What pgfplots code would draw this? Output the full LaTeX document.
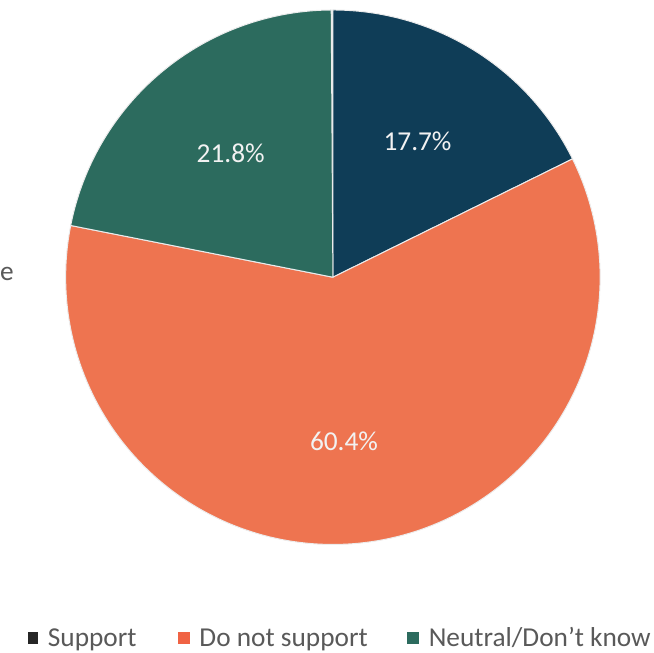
\documentclass[border=0pt]{standalone}
\usepackage{pgfplots}
\pgfplotsset{compat=1.18}
\usepackage{pgfplotstable}
\usepackage{fontspec}
\setmainfont{Carlito}
\definecolor{cSup}{HTML}{0F3D57}
\definecolor{cNot}{HTML}{EE7450}
\definecolor{cNeu}{HTML}{2C6B5E}
\definecolor{cTxt}{HTML}{595959}
\pgfplotstableread{
label share
Support 17.7
NotSupport 60.4
Neutral 21.8
}\piedata
\begin{document}
\begin{tikzpicture}
\pgfplotstablegetelem{0}{share}\of\piedata \let\sA\pgfplotsretval
\pgfplotstablegetelem{1}{share}\of\piedata \let\sB\pgfplotsretval
\pgfplotstablegetelem{2}{share}\of\piedata \let\sC\pgfplotsretval
\pgfmathsetmacro{\aA}{90}
\pgfmathsetmacro{\aB}{90-3.6*\sA}
\pgfmathsetmacro{\aC}{\aB-3.6*\sB}
\pgfmathsetmacro{\aD}{\aC-3.6*\sC}
\begin{axis}[x=1bp,y=1bp,xmin=0,xmax=650,ymin=0,ymax=654,hide axis,clip=false,
  anchor=origin,at={(0,0)},scale only axis]
\def\cx{328}\def\cy{376}\def\R{268}
\addplot[fill=cSup,draw=white!85!gray,line width=1pt,domain=\aB:\aA,samples=80,variable=\t]
  ({\cx+\R*cos(\t)},{\cy+\R*sin(\t)}) -- (axis cs:\cx,\cy) -- cycle;
\addplot[fill=cNot,draw=white!85!gray,line width=1pt,domain=\aC:\aB,samples=160,variable=\t]
  ({\cx+\R*cos(\t)},{\cy+\R*sin(\t)}) -- (axis cs:\cx,\cy) -- cycle;
\addplot[fill=cNeu,draw=white!85!gray,line width=1pt,domain=\aD:\aC,samples=80,variable=\t]
  ({\cx+\R*cos(\t)},{\cy+\R*sin(\t)}) -- (axis cs:\cx,\cy) -- cycle;
\pgfmathsetmacro{\mA}{(\aA+\aB)/2}
\pgfmathsetmacro{\mB}{(\aB+\aC)/2}
\pgfmathsetmacro{\mC}{(\aC+\aD)/2}
\tikzset{lbl/.style={text=white!90!gray,font=\fontsize{27.5}{32}\selectfont}}
\node[lbl] at (axis cs:{\cx+0.6*\R*cos(\mA)},{\cy+0.6*\R*sin(\mA)}) {\sA\%};
\node[lbl] at (axis cs:{\cx-10+0.6*\R*cos(\mB)},{\cy-5+0.6*\R*sin(\mB)}) {\sB\%};
\node[lbl] at (axis cs:{\cx+0.6*\R*cos(\mC)},{\cy+0.6*\R*sin(\mC)}) {\sC\%};
\node[anchor=east,inner sep=0,text=cTxt,font=\fontsize{27.5}{32}\selectfont] at (axis cs:8,379) {e};
% legend
\tikzset{leg/.style={anchor=base west,text=cTxt,font=\fontsize{27.5}{32}\selectfont,inner sep=0}}
\fill[black!85] (axis cs:22,8) rectangle (axis cs:32,20);
\node[leg] at (axis cs:42,6) {Support};
\fill[cNot!85!red] (axis cs:173,8) rectangle (axis cs:185,20);
\node[leg] at (axis cs:194,6) {Do not support};
\fill[cNeu] (axis cs:402,8) rectangle (axis cs:414,20);
\node[leg] at (axis cs:424,6) {Neutral/Don't know};
\end{axis}
\useasboundingbox (0,0) rectangle (650bp,654bp);
\end{tikzpicture}
\end{document}
